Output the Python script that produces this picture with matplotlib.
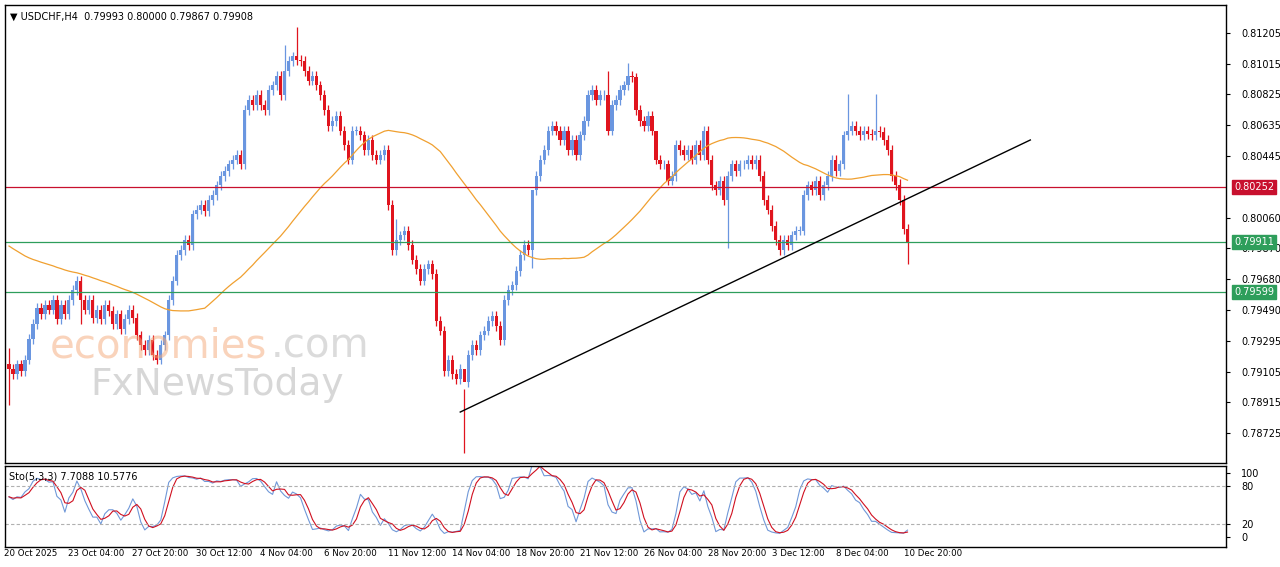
import numpy as np
import pandas as pd
import matplotlib.pyplot as plt
from matplotlib.patches import Rectangle

# closes in units of 0.0001
closes = [7912, 7909, 7915, 7911, 7918, 7931, 7940, 7950,
          7946, 7952, 7949, 7955, 7943, 7952, 7946,
          7955, 7961, 7967, 7955, 7949, 7955, 7944, 7949,
          7943, 7952, 7948, 7940, 7946, 7937, 7943, 7949,
          7944, 7933, 7927, 7924, 7930, 7921, 7918, 7927,
          7933, 7955, 7967, 7983, 7986, 7992, 7989, 8008,
          8011, 8014, 8010, 8017, 8020, 8026, 8032, 8035,
          8039, 8042, 8045, 8039, 8073, 8079, 8076, 8082,
          8076, 8073, 8085, 8088, 8094, 8082, 8097, 8103,
          8106, 8104, 8103, 8097, 8091, 8094, 8088, 8082,
          8073, 8063, 8066, 8069, 8060, 8051, 8042, 8060,
          8060, 8057, 8048, 8054, 8045, 8042, 8045, 8048,
          8014, 7986, 7992, 7995, 7998, 7989, 7980, 7974,
          7967, 7974, 7977, 7971, 7942, 7936, 7911, 7918,
          7909, 7906, 7912, 7904, 7921, 7927, 7924, 7933,
          7936, 7942, 7945, 7939, 7930, 7955, 7961, 7964,
          7973, 7983, 7989, 7986, 8023, 8032, 8042, 8048,
          8060, 8063, 8060, 8054, 8060, 8048, 8054, 8045,
          8057, 8066, 8082, 8085, 8079, 8082, 8082, 8060,
          8076, 8079, 8085, 8088, 8094, 8093, 8073, 8066,
          8063, 8069, 8060, 8042, 8039, 8039, 8029, 8032,
          8051, 8048, 8045, 8048, 8042, 8051, 8045, 8060,
          8042, 8026, 8023, 8029, 8017, 8032, 8039, 8035,
          8039, 8039, 8042, 8039, 8042, 8032, 8017, 8011,
          8001, 7992, 7986, 7992, 7989, 7995, 7998, 7998,
          8020, 8026, 8023, 8029, 8020, 8026, 8032, 8042,
          8035, 8039, 8057, 8060, 8063, 8060, 8057, 8060,
          8058, 8057, 8060, 8059, 8054, 8048, 8032, 8026,
          8017, 7999, 7990.8]
first_open = 7915
high_spikes = {0: 7925, 69: 8113, 72: 8124, 97: 8005, 114: 7900, 131: 8000, 150: 8097,
               155: 8102, 162: 8045, 210: 8083, 217: 8083, 223: 8030}
low_spikes = {0: 7890, 18: 7940, 114: 7860, 131: 7975, 180: 7987, 225: 7977}
ma_start = 7990  # closes before the window, used to seed the moving average

levels = [(0.80252, '#c8102e'), (0.79911, '#2e9e5b'), (0.79599, '#2e9e5b')]
trend = [(113, 0.78855), (255.75, 0.80542)]
price_ticks = [0.81205, 0.81015, 0.80825, 0.80635, 0.80445, 0.80060, 0.79870,
               0.79680, 0.79490, 0.79295, 0.79105, 0.78915, 0.78725]
x_labels = ['20 Oct 2025', '23 Oct 04:00', '27 Oct 20:00', '30 Oct 12:00', '4 Nov 04:00',
            '6 Nov 20:00', '11 Nov 12:00', '14 Nov 04:00', '18 Nov 20:00', '21 Nov 12:00',
            '26 Nov 04:00', '28 Nov 20:00', '3 Dec 12:00', '8 Dec 04:00', '10 Dec 20:00']
x_label_idx = [0, 16, 32, 48, 64, 80, 96, 112, 128, 144, 160, 176, 192, 208, 225]

c = np.array(closes) / 10000
o = np.concatenate([[first_open / 10000], c[:-1]])
h = np.maximum(o, c) + 0.0003
l = np.minimum(o, c) - 0.0003
for k, v in high_spikes.items():
    h[k] = v / 10000
for k, v in low_spikes.items():
    l[k] = v / 10000
n = len(c)
idx = np.arange(n)

s = pd.Series(c)
period = 50
padded = pd.concat([pd.Series([ma_start / 10000] * (period - 1)), s], ignore_index=True)
ma = padded.rolling(period).mean().iloc[period - 1:].values
hh = pd.Series(h).rolling(5, min_periods=1).max()
ll = pd.Series(l).rolling(5, min_periods=1).min()
num = (s - ll).rolling(3, min_periods=1).sum()
den = (hh - ll).rolling(3, min_periods=1).sum()
k_line = (100 * num / den).values
d_line = pd.Series(k_line).rolling(3, min_periods=1).mean().values

fig = plt.figure(figsize=(12.8, 5.67), dpi=100)
W, H = 1280, 567
ax = fig.add_axes([5 / W, 1 - 463 / H, 1221 / W, 458 / H])
ax2 = fig.add_axes([5 / W, 1 - 547 / H, 1221 / W, 81 / H])
xmax = (1226 - 5) / 4 - 0.5
for a in (ax, ax2):
    a.set_xlim(-1, xmax)
    a.set_xticks([])
    for sp in a.spines.values():
        sp.set_linewidth(1.0)
        sp.set_color('black')

blue, red = '#6a96e0', '#e0141e'
for i in idx:
    col = blue if c[i] >= o[i] else red
    ax.vlines(i, l[i], h[i], color=col, lw=0.9)
    bot = min(o[i], c[i])
    ht = max(abs(c[i] - o[i]), 0.00004)
    ax.add_patch(Rectangle((i - 0.4, bot), 0.8, ht, color=col, lw=0))

ax.plot(idx, ma, color='#f0a030', lw=0.9)
for price, col in levels:
    ax.axhline(price, color=col, lw=0.9)
ax.plot([p[0] for p in trend], [p[1] for p in trend], color='black', lw=1.0)

ax.set_ylim(0.78539, 0.81379)
ax.yaxis.tick_right()
ax.set_yticks(price_ticks)
ax.set_yticklabels(['%.5f' % p for p in price_ticks], fontsize=7)
ax.tick_params(axis='y', length=3, pad=8)
for price, col in levels:
    ax.text(1.0065, price, '%.5f' % price, transform=ax.get_yaxis_transform(),
            fontsize=7, color='white', va='center', ha='left',
            bbox=dict(boxstyle='square,pad=0.2', fc=col, ec=col))

ax.text(0.004, 0.985, '\u25bc USDCHF,H4  0.79993 0.80000 0.79867 0.79908',
        transform=ax.transAxes, fontsize=7, va='top')
ax.text(0.037, 0.255, 'economies', transform=ax.transAxes, fontsize=29,
        color='#f5a878', alpha=0.5, va='center')
ax.text(0.218, 0.255, '.com', transform=ax.transAxes, fontsize=29,
        color='#b8b8b8', alpha=0.5, va='center')
ax.text(0.07, 0.17, 'FxNewsToday', transform=ax.transAxes, fontsize=27,
        color='#b0b0b0', alpha=0.5, va='center')

ax2.plot(idx, k_line, color='#7098d8', lw=0.8)
ax2.plot(idx, d_line, color='#d01020', lw=0.8)
for lv in (80, 20):
    ax2.axhline(lv, color='#b0b0b0', lw=0.8, ls=(0, (3, 2)))
ax2.set_ylim(-15.6, 111)
ax2.yaxis.tick_right()
ax2.set_yticks([100, 80, 20, 0])
ax2.tick_params(axis='y', labelsize=7, length=3, pad=8)
ax2.text(0.003, 0.93, 'Sto(5,3,3) 7.7088 10.5776', transform=ax2.transAxes,
         fontsize=7, va='top')

for xi, lab in zip(x_label_idx, x_labels):
    fig.text((5 + 4 * xi) / W - 0.001, 1 - 554 / H, lab, fontsize=6.2, va='center', ha='left')

fig.savefig('out.png', dpi=100)
